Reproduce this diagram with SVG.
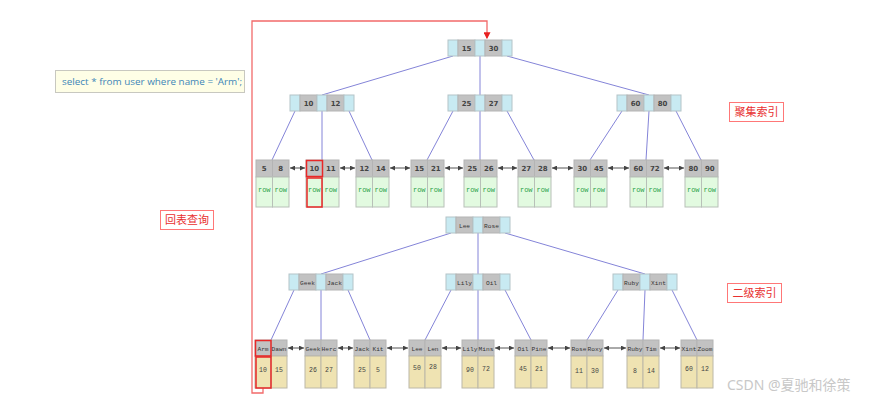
<svg xmlns="http://www.w3.org/2000/svg" width="878" height="400" viewBox="0 0 878 400">
<defs>
<style>
.bl{fill:#c8eaf2;stroke:#b4c4c8;stroke-width:1}
.gr{fill:#c2c2c2;stroke:#b4b4b4;stroke-width:1}
.rw{fill:#e2fae0;stroke:#b8c0b8;stroke-width:1}
.vl{fill:#efe3b2;stroke:#bcb8a8;stroke-width:1}
.k{font-family:"DejaVu Sans",sans-serif;font-weight:bold;font-size:7px;fill:#444;text-anchor:middle}
.n{font-family:"Liberation Mono","DejaVu Sans Mono",monospace;font-size:6.2px;fill:#333;text-anchor:middle}
.r{font-family:"Liberation Mono","DejaVu Sans Mono",monospace;font-size:7px;fill:#2aa24a;text-anchor:middle}
.v{font-family:"Liberation Mono","DejaVu Sans Mono",monospace;font-size:6.5px;fill:#444;text-anchor:middle}
.ed{stroke:#8484d8;stroke-width:1;fill:none}
.lk{stroke:#555;stroke-width:1;fill:none;marker-start:url(#ah);marker-end:url(#ah)}
.lb{fill:#fff;stroke:#f77;stroke-width:1}
.lt{font-family:"Noto Sans CJK SC",sans-serif;font-size:11px;fill:#e83030;text-anchor:middle}
.hl{fill:none;stroke:#e82828;stroke-width:1.5}
</style>
<marker id="ah" viewBox="0 0 6 6" refX="6" refY="3" markerWidth="5" markerHeight="5" orient="auto-start-reverse" markerUnits="userSpaceOnUse">
<path d="M0,0 L6,3 L0,6 z" fill="#444"/>
</marker>
<marker id="ra" viewBox="0 0 6 6" refX="5" refY="3" markerWidth="7" markerHeight="7" orient="auto" markerUnits="userSpaceOnUse">
<path d="M0,0 L6,3 L0,6 z" fill="#e82020"/>
</marker>
</defs>
<rect width="878" height="400" fill="#fff"/>

<g id="connectors">
<path class="ed" d="M453,56 L322,95 M480,56 L480,95 M507,56 L649,95"/>
<path class="ed" d="M295,111 L272,160 M322,111 L322,160 M349,111 L372,160"/>
<path class="ed" d="M453,111 L427,160 M480,111 L480,160 M507,111 L534,160"/>
<path class="ed" d="M622,111 L590,160 M649,111 L646,160 M676,111 L701,160"/>
<path class="ed" d="M451,233 L321,274 M478,233 L478,274 M505,233 L645,274"/>
<path class="ed" d="M294,290 L271,340 M321,290 L321,340 M348,290 L370,340"/>
<path class="ed" d="M451,290 L425,340 M478,290 L478,340 M505,290 L531,340"/>
<path class="ed" d="M618,290 L587,340 M645,290 L643,340 M672,290 L697,340"/>
<line class="lk" x1="290" y1="168" x2="305" y2="168"/>
<line class="lk" x1="340" y1="168" x2="355" y2="168"/>
<line class="lk" x1="390" y1="168" x2="410" y2="168"/>
<line class="lk" x1="445" y1="168" x2="463" y2="168"/>
<line class="lk" x1="498" y1="168" x2="517" y2="168"/>
<line class="lk" x1="552" y1="168" x2="573" y2="168"/>
<line class="lk" x1="608" y1="168" x2="629" y2="168"/>
<line class="lk" x1="664" y1="168" x2="684" y2="168"/>
<line class="lk" x1="288" y1="348" x2="304" y2="348"/>
<line class="lk" x1="338" y1="348" x2="353" y2="348"/>
<line class="lk" x1="387" y1="348" x2="408" y2="348"/>
<line class="lk" x1="442" y1="348" x2="461" y2="348"/>
<line class="lk" x1="495" y1="348" x2="514" y2="348"/>
<line class="lk" x1="548" y1="348" x2="570" y2="348"/>
<line class="lk" x1="604" y1="348" x2="626" y2="348"/>
<line class="lk" x1="660" y1="348" x2="680" y2="348"/>
<path d="M263,388 V393 H252 V21 H487 V38" fill="none" stroke="#f26a6a" stroke-width="1.3" marker-end="url(#ra)"/>
</g>

<!-- clustered index internal nodes -->
<g id="c-root" transform="translate(448,40)">
<rect class="bl" x="0" y="0" width="10" height="16"/><rect class="gr" x="10" y="0" width="17" height="16"/><rect class="bl" x="27" y="0" width="10" height="16"/><rect class="gr" x="37" y="0" width="17" height="16"/><rect class="bl" x="54" y="0" width="10" height="16"/>
<text class="k" x="18.5" y="10.5">15</text><text class="k" x="45.5" y="10.5">30</text>
</g>
<g id="c-l" transform="translate(290,95)">
<rect class="bl" x="0" y="0" width="10" height="16"/><rect class="gr" x="10" y="0" width="17" height="16"/><rect class="bl" x="27" y="0" width="10" height="16"/><rect class="gr" x="37" y="0" width="17" height="16"/><rect class="bl" x="54" y="0" width="10" height="16"/>
<text class="k" x="18.5" y="10.5">10</text><text class="k" x="45.5" y="10.5">12</text>
</g>
<g id="c-m" transform="translate(448,95)">
<rect class="bl" x="0" y="0" width="10" height="16"/><rect class="gr" x="10" y="0" width="17" height="16"/><rect class="bl" x="27" y="0" width="10" height="16"/><rect class="gr" x="37" y="0" width="17" height="16"/><rect class="bl" x="54" y="0" width="10" height="16"/>
<text class="k" x="18.5" y="10.5">25</text><text class="k" x="45.5" y="10.5">27</text>
</g>
<g id="c-r" transform="translate(617,95)">
<rect class="bl" x="0" y="0" width="10" height="16"/><rect class="gr" x="10" y="0" width="17" height="16"/><rect class="bl" x="27" y="0" width="10" height="16"/><rect class="gr" x="37" y="0" width="17" height="16"/><rect class="bl" x="54" y="0" width="10" height="16"/>
<text class="k" x="18.5" y="10.5">60</text><text class="k" x="45.5" y="10.5">80</text>
</g>

<!-- clustered leaves -->
<g id="cl1" transform="translate(256,160)"><rect class="gr" x="0" y="0" width="16.5" height="17"/><rect class="gr" x="16.5" y="0" width="16.5" height="17"/><rect class="rw" x="0" y="17" width="16.5" height="30"/><rect class="rw" x="16.5" y="17" width="16.5" height="30"/><text class="k" x="8.25" y="11">5</text><text class="k" x="24.75" y="11">8</text><text class="r" x="8.25" y="32">row</text><text class="r" x="24.75" y="32">row</text></g>
<g id="cl2" transform="translate(306,160)"><rect class="gr" x="0" y="0" width="16.5" height="17"/><rect class="gr" x="16.5" y="0" width="16.5" height="17"/><rect class="rw" x="0" y="17" width="16.5" height="30"/><rect class="rw" x="16.5" y="17" width="16.5" height="30"/><text class="k" x="8.25" y="11">10</text><text class="k" x="24.75" y="11">11</text><text class="r" x="8.25" y="32">row</text><text class="r" x="24.75" y="32">row</text>
<rect class="hl" x="0.5" y="0.5" width="16" height="16"/><rect class="hl" x="1" y="18" width="15" height="29"/></g>
<g id="cl3" transform="translate(356,160)"><rect class="gr" x="0" y="0" width="16.5" height="17"/><rect class="gr" x="16.5" y="0" width="16.5" height="17"/><rect class="rw" x="0" y="17" width="16.5" height="30"/><rect class="rw" x="16.5" y="17" width="16.5" height="30"/><text class="k" x="8.25" y="11">12</text><text class="k" x="24.75" y="11">14</text><text class="r" x="8.25" y="32">row</text><text class="r" x="24.75" y="32">row</text></g>
<g id="cl4" transform="translate(411,160)"><rect class="gr" x="0" y="0" width="16.5" height="17"/><rect class="gr" x="16.5" y="0" width="16.5" height="17"/><rect class="rw" x="0" y="17" width="16.5" height="30"/><rect class="rw" x="16.5" y="17" width="16.5" height="30"/><text class="k" x="8.25" y="11">15</text><text class="k" x="24.75" y="11">21</text><text class="r" x="8.25" y="32">row</text><text class="r" x="24.75" y="32">row</text></g>
<g id="cl5" transform="translate(464,160)"><rect class="gr" x="0" y="0" width="16.5" height="17"/><rect class="gr" x="16.5" y="0" width="16.5" height="17"/><rect class="rw" x="0" y="17" width="16.5" height="30"/><rect class="rw" x="16.5" y="17" width="16.5" height="30"/><text class="k" x="8.25" y="11">25</text><text class="k" x="24.75" y="11">26</text><text class="r" x="8.25" y="32">row</text><text class="r" x="24.75" y="32">row</text></g>
<g id="cl6" transform="translate(518,160)"><rect class="gr" x="0" y="0" width="16.5" height="17"/><rect class="gr" x="16.5" y="0" width="16.5" height="17"/><rect class="rw" x="0" y="17" width="16.5" height="30"/><rect class="rw" x="16.5" y="17" width="16.5" height="30"/><text class="k" x="8.25" y="11">27</text><text class="k" x="24.75" y="11">28</text><text class="r" x="8.25" y="32">row</text><text class="r" x="24.75" y="32">row</text></g>
<g id="cl7" transform="translate(574,160)"><rect class="gr" x="0" y="0" width="16.5" height="17"/><rect class="gr" x="16.5" y="0" width="16.5" height="17"/><rect class="rw" x="0" y="17" width="16.5" height="30"/><rect class="rw" x="16.5" y="17" width="16.5" height="30"/><text class="k" x="8.25" y="11">30</text><text class="k" x="24.75" y="11">45</text><text class="r" x="8.25" y="32">row</text><text class="r" x="24.75" y="32">row</text></g>
<g id="cl8" transform="translate(630,160)"><rect class="gr" x="0" y="0" width="16.5" height="17"/><rect class="gr" x="16.5" y="0" width="16.5" height="17"/><rect class="rw" x="0" y="17" width="16.5" height="30"/><rect class="rw" x="16.5" y="17" width="16.5" height="30"/><text class="k" x="8.25" y="11">60</text><text class="k" x="24.75" y="11">72</text><text class="r" x="8.25" y="32">row</text><text class="r" x="24.75" y="32">row</text></g>
<g id="cl9" transform="translate(685,160)"><rect class="gr" x="0" y="0" width="16.5" height="17"/><rect class="gr" x="16.5" y="0" width="16.5" height="17"/><rect class="rw" x="0" y="17" width="16.5" height="30"/><rect class="rw" x="16.5" y="17" width="16.5" height="30"/><text class="k" x="8.25" y="11">80</text><text class="k" x="24.75" y="11">90</text><text class="r" x="8.25" y="32">row</text><text class="r" x="24.75" y="32">row</text></g>

<!-- secondary index internal nodes -->
<g id="s-root" transform="translate(446,217)">
<rect class="bl" x="0" y="0" width="10" height="16"/><rect class="gr" x="10" y="0" width="17" height="16"/><rect class="bl" x="27" y="0" width="10" height="16"/><rect class="gr" x="37" y="0" width="17" height="16"/><rect class="bl" x="54" y="0" width="10" height="16"/>
<text class="n" x="18.5" y="10.5">Lee</text><text class="n" x="45.5" y="10.5">Rose</text>
</g>
<g id="s-l" transform="translate(289,274)">
<rect class="bl" x="0" y="0" width="10" height="16"/><rect class="gr" x="10" y="0" width="17" height="16"/><rect class="bl" x="27" y="0" width="10" height="16"/><rect class="gr" x="37" y="0" width="17" height="16"/><rect class="bl" x="54" y="0" width="10" height="16"/>
<text class="n" x="18.5" y="10.5">Geek</text><text class="n" x="45.5" y="10.5">Jack</text>
</g>
<g id="s-m" transform="translate(446,274)">
<rect class="bl" x="0" y="0" width="10" height="16"/><rect class="gr" x="10" y="0" width="17" height="16"/><rect class="bl" x="27" y="0" width="10" height="16"/><rect class="gr" x="37" y="0" width="17" height="16"/><rect class="bl" x="54" y="0" width="10" height="16"/>
<text class="n" x="18.5" y="10.5">Lily</text><text class="n" x="45.5" y="10.5">Oil</text>
</g>
<g id="s-r" transform="translate(613,274)">
<rect class="bl" x="0" y="0" width="10" height="16"/><rect class="gr" x="10" y="0" width="17" height="16"/><rect class="bl" x="27" y="0" width="10" height="16"/><rect class="gr" x="37" y="0" width="17" height="16"/><rect class="bl" x="54" y="0" width="10" height="16"/>
<text class="n" x="18.5" y="10.5">Ruby</text><text class="n" x="45.5" y="10.5">Xint</text>
</g>

<!-- secondary leaves -->
<g id="sl1" transform="translate(255,340)"><rect class="gr" x="0" y="0" width="16" height="16"/><rect class="gr" x="16" y="0" width="16" height="16"/><rect class="vl" x="0" y="16" width="16" height="32"/><rect class="vl" x="16" y="16" width="16" height="32"/><text class="n" x="8" y="10.5">Arm</text><text class="n" x="24" y="10.5">Dawn</text><text class="v" x="8" y="32">10</text><text class="v" x="24" y="32">15</text>
<rect class="hl" x="0.5" y="0.5" width="15.5" height="15.5"/><rect class="hl" x="1" y="17" width="15" height="31"/></g>
<g id="sl2" transform="translate(305,340)"><rect class="gr" x="0" y="0" width="16" height="16"/><rect class="gr" x="16" y="0" width="16" height="16"/><rect class="vl" x="0" y="16" width="16" height="32"/><rect class="vl" x="16" y="16" width="16" height="32"/><text class="n" x="8" y="10.5">Geek</text><text class="n" x="24" y="10.5">Herc</text><text class="v" x="8" y="32">26</text><text class="v" x="24" y="32">27</text></g>
<g id="sl3" transform="translate(354,340)"><rect class="gr" x="0" y="0" width="16" height="16"/><rect class="gr" x="16" y="0" width="16" height="16"/><rect class="vl" x="0" y="16" width="16" height="32"/><rect class="vl" x="16" y="16" width="16" height="32"/><text class="n" x="8" y="10.5">Jack</text><text class="n" x="24" y="10.5">Kit</text><text class="v" x="8" y="32">25</text><text class="v" x="24" y="32">5</text></g>
<g id="sl4" transform="translate(409,340)"><rect class="gr" x="0" y="0" width="16" height="16"/><rect class="gr" x="16" y="0" width="16" height="16"/><rect class="vl" x="0" y="16" width="16" height="32"/><rect class="vl" x="16" y="16" width="16" height="32"/><text class="n" x="8" y="10.5">Lee</text><text class="n" x="24" y="10.5">Len</text><text class="v" x="8" y="30">50</text><text class="v" x="24" y="29">28</text></g>
<g id="sl5" transform="translate(462,340)"><rect class="gr" x="0" y="0" width="16" height="16"/><rect class="gr" x="16" y="0" width="16" height="16"/><rect class="vl" x="0" y="16" width="16" height="32"/><rect class="vl" x="16" y="16" width="16" height="32"/><text class="n" x="8" y="10.5">Lily</text><text class="n" x="24" y="10.5">Mins</text><text class="v" x="8" y="32">90</text><text class="v" x="24" y="31">72</text></g>
<g id="sl6" transform="translate(515,340)"><rect class="gr" x="0" y="0" width="16" height="16"/><rect class="gr" x="16" y="0" width="16" height="16"/><rect class="vl" x="0" y="16" width="16" height="32"/><rect class="vl" x="16" y="16" width="16" height="32"/><text class="n" x="8" y="10.5">Oil</text><text class="n" x="24" y="10.5">Pine</text><text class="v" x="8" y="31">45</text><text class="v" x="24" y="31">21</text></g>
<g id="sl7" transform="translate(571,340)"><rect class="gr" x="0" y="0" width="16" height="16"/><rect class="gr" x="16" y="0" width="16" height="16"/><rect class="vl" x="0" y="16" width="16" height="32"/><rect class="vl" x="16" y="16" width="16" height="32"/><text class="n" x="8" y="10.5">Rose</text><text class="n" x="24" y="10.5">Roxy</text><text class="v" x="8" y="33">11</text><text class="v" x="24" y="33">30</text></g>
<g id="sl8" transform="translate(627,340)"><rect class="gr" x="0" y="0" width="16" height="16"/><rect class="gr" x="16" y="0" width="16" height="16"/><rect class="vl" x="0" y="16" width="16" height="32"/><rect class="vl" x="16" y="16" width="16" height="32"/><text class="n" x="8" y="10.5">Ruby</text><text class="n" x="24" y="10.5">Tim</text><text class="v" x="8" y="33">8</text><text class="v" x="24" y="33">14</text></g>
<g id="sl9" transform="translate(681,340)"><rect class="gr" x="0" y="0" width="16" height="16"/><rect class="gr" x="16" y="0" width="16" height="16"/><rect class="vl" x="0" y="16" width="16" height="32"/><rect class="vl" x="16" y="16" width="16" height="32"/><text class="n" x="8" y="10.5">Xint</text><text class="n" x="24" y="10.5">Zoom</text><text class="v" x="8" y="31">60</text><text class="v" x="24" y="31">12</text></g>

<!-- labels -->
<g id="query">
<rect x="55.5" y="70.5" width="189" height="22" fill="#fefee6" stroke="#c8c8c0" stroke-width="1"/>
<text x="62" y="85" font-family="'Open Sans','Noto Sans',sans-serif" font-size="9.6" fill="#3d86b8" textLength="180" lengthAdjust="spacingAndGlyphs">select * from user where name = 'Arm';</text>
</g>
<g id="label-clustered"><rect class="lb" x="729.5" y="102.5" width="54" height="19"/><text class="lt" x="756.5" y="116">聚集索引</text></g>
<g id="label-lookup"><rect class="lb" x="160.5" y="210.5" width="53" height="19"/><text class="lt" x="187" y="224">回表查询</text></g>
<g id="label-secondary"><rect class="lb" x="727.5" y="283.5" width="54" height="19"/><text class="lt" x="754.5" y="297">二级索引</text></g>
<text x="727" y="390" font-family="'Noto Sans','Noto Sans CJK SC',sans-serif" font-size="14" fill="#c8c8c8">CSDN @夏驰和徐策</text>
</svg>
